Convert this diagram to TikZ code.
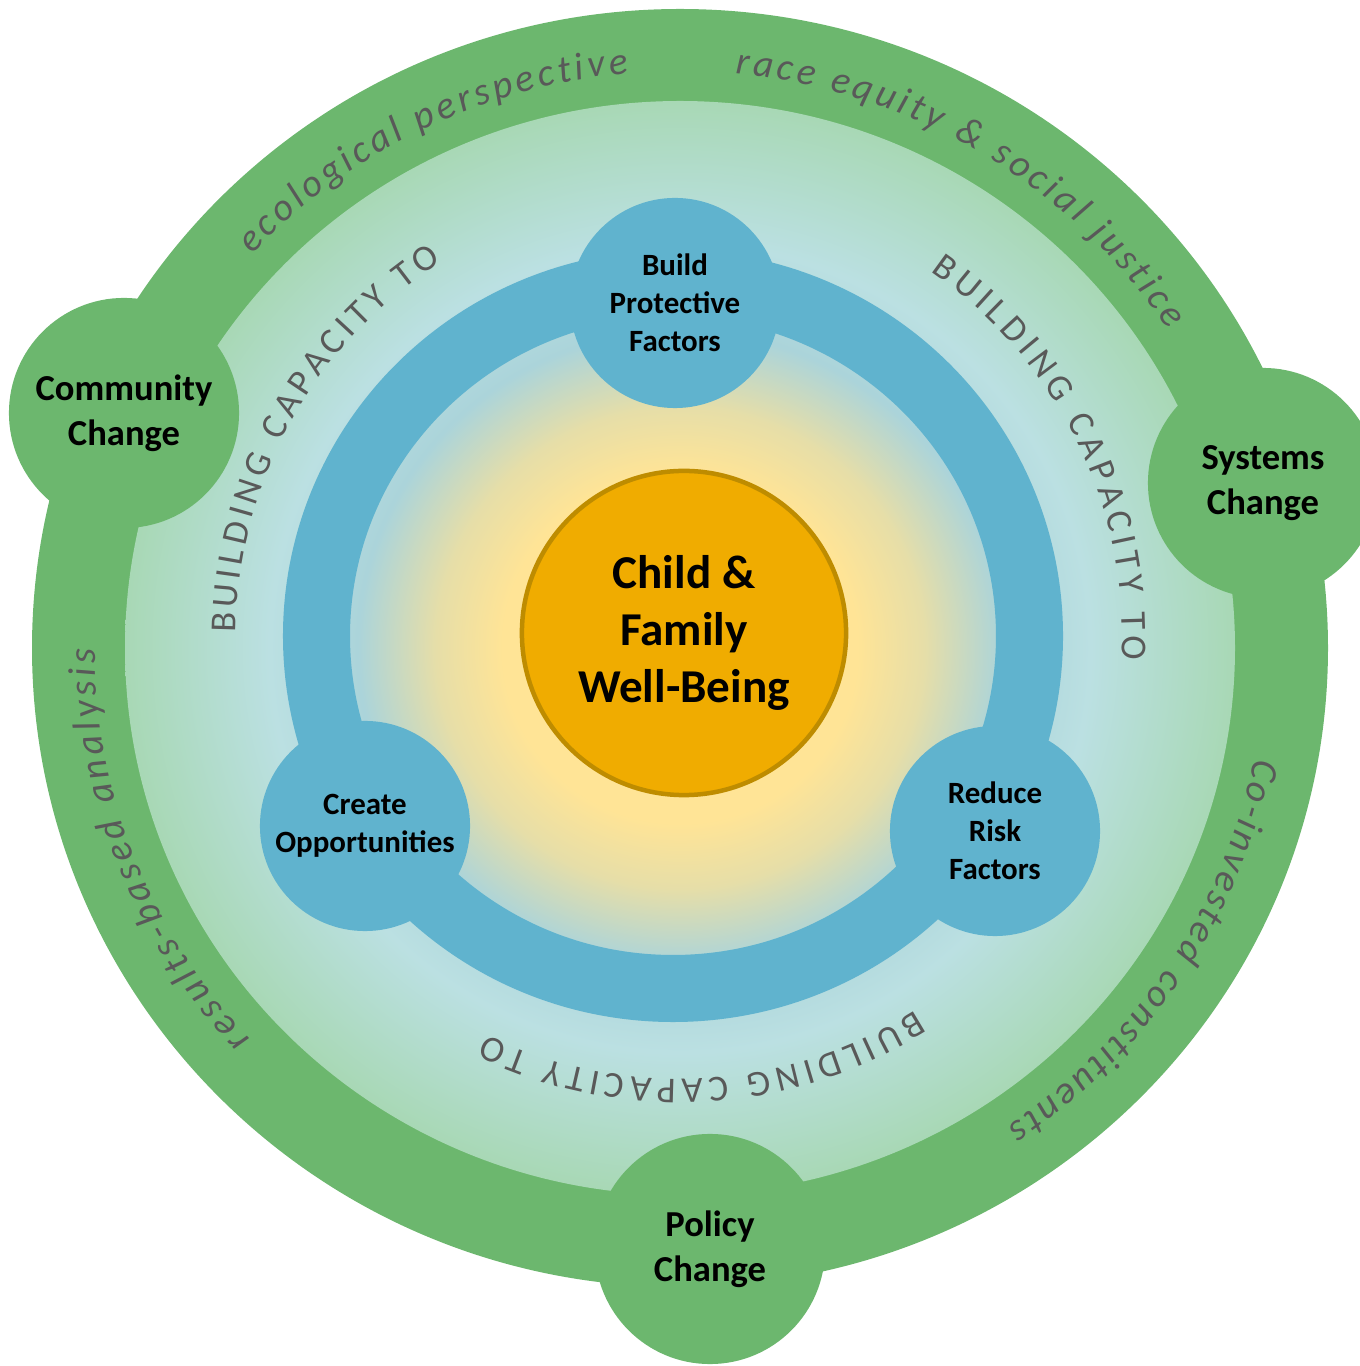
\documentclass[tikz,border=0pt]{standalone}
\usepackage{fontspec}
\setmainfont{Carlito}
\usetikzlibrary{decorations.text}

\definecolor{ringgreen}{HTML}{6CB76E}
\definecolor{ringblue}{HTML}{60B3CE}
\definecolor{coreorange}{HTML}{F0AC00}
\definecolor{coreedge}{HTML}{BE8C00}
\definecolor{capgray}{HTML}{595959}
\definecolor{glowA}{HTML}{FFE496}
\definecolor{glowB}{HTML}{E6DEA8}
\definecolor{glowC}{HTML}{ABD4DA}
\definecolor{glowD}{HTML}{BBE0E2}
\definecolor{glowE}{HTML}{A8D8B5}

\pgfdeclareradialshading{glow}{\pgfpoint{0bp}{0bp}}{color(0bp)=(glowA); color(8bp)=(glowA); color(11bp)=(glowB); color(14.5bp)=(glowC); color(18.5bp)=(glowD); color(25bp)=(glowE); color(50bp)=(glowE)}

\tikzset{
  blob/.style={circle, inner sep=0pt, align=center},
  greenblob/.style={blob, fill=ringgreen, minimum size=2.3cm, font=\fontsize{10.4}{12.7}\selectfont\bfseries},
  blueblob/.style={blob, fill=ringblue, minimum size=2.1cm, font=\fontsize{8.8}{10.8}\selectfont\bfseries},
  ringtext/.style={decorate, decoration={text along path, text align={fit to path}, text color=capgray, text={|\fontsize{11}{13}\selectfont\itshape|#1}}},
  captext/.style={decorate, decoration={text along path, text align={fit to path}, text color=capgray, text={|\fontsize{10.4}{12}\selectfont|BUILDING CAPACITY TO}}}
}

\begin{document}
\begin{tikzpicture}[x=0.01cm, y=0.01cm]
\useasboundingbox (0,0) rectangle (1360,1366);
\clip (0,0) rectangle (1360,1366);
% outer ring and glow
\fill[ringgreen] (680,718) ellipse [x radius=648, y radius=639];
\shade[shading=glow] (680,718) ellipse [x radius=555, y radius=547];
% change circles
\node[greenblob] (community) at (124,953) {Community\\Change};
\node[greenblob] (systems) at (1263,883) {Systems\\Change};
\node[greenblob] (policy) at (710,117) {Policy\\Change};
% blue ring
\draw[ringblue, line width=0.67cm] (673,730) ellipse [x radius=356.5, y radius=352.5];
\node[blueblob] (protect) at (675,1063) {Build\\Protective\\Factors};
\node[blueblob] (opportunity) at (365,540) {Create\\Opportunities};
\node[blueblob] (risk) at (995,535) {Reduce\\Risk\\Factors};
% core
\node[circle, fill=coreorange, draw=coreedge, line width=0.045cm, minimum size=3.24cm,
  font=\fontsize{13.4}{16.3}\selectfont\bfseries, align=center] (core) at (684,733) {Child \&\\Family\\Well-Being};
% ring texts
\path[ringtext={ecological perspective}] (680,718) ++(137:585 and 577) arc[start angle=137, end angle=95, x radius=585, y radius=577];
\path[ringtext={race equity {\&} social justice}] (680,718) ++(84.6:585 and 577) arc[start angle=84.6, end angle=33.5, x radius=585, y radius=577];
\path[ringtext={Co-invested constituents}] (680,718) ++(-11:585 and 577) arc[start angle=-11, end angle=-56, x radius=585, y radius=577];
\path[ringtext={results-based analysis}] (680,718) ++(222.7:585 and 577) arc[start angle=222.7, end angle=180, x radius=585, y radius=577];
% building capacity
\path[captext] (679,730) ++(179.6:443) arc[start angle=179.6, end angle=122.4, radius=443];
\path[captext] (679,730) ++(55.4:443) arc[start angle=55.4, end angle=-3.1, radius=443];
\path[captext] (679,730) ++(-57.7:443) arc[start angle=-57.7, end angle=-115.8, radius=443];
\end{tikzpicture}
\end{document}
